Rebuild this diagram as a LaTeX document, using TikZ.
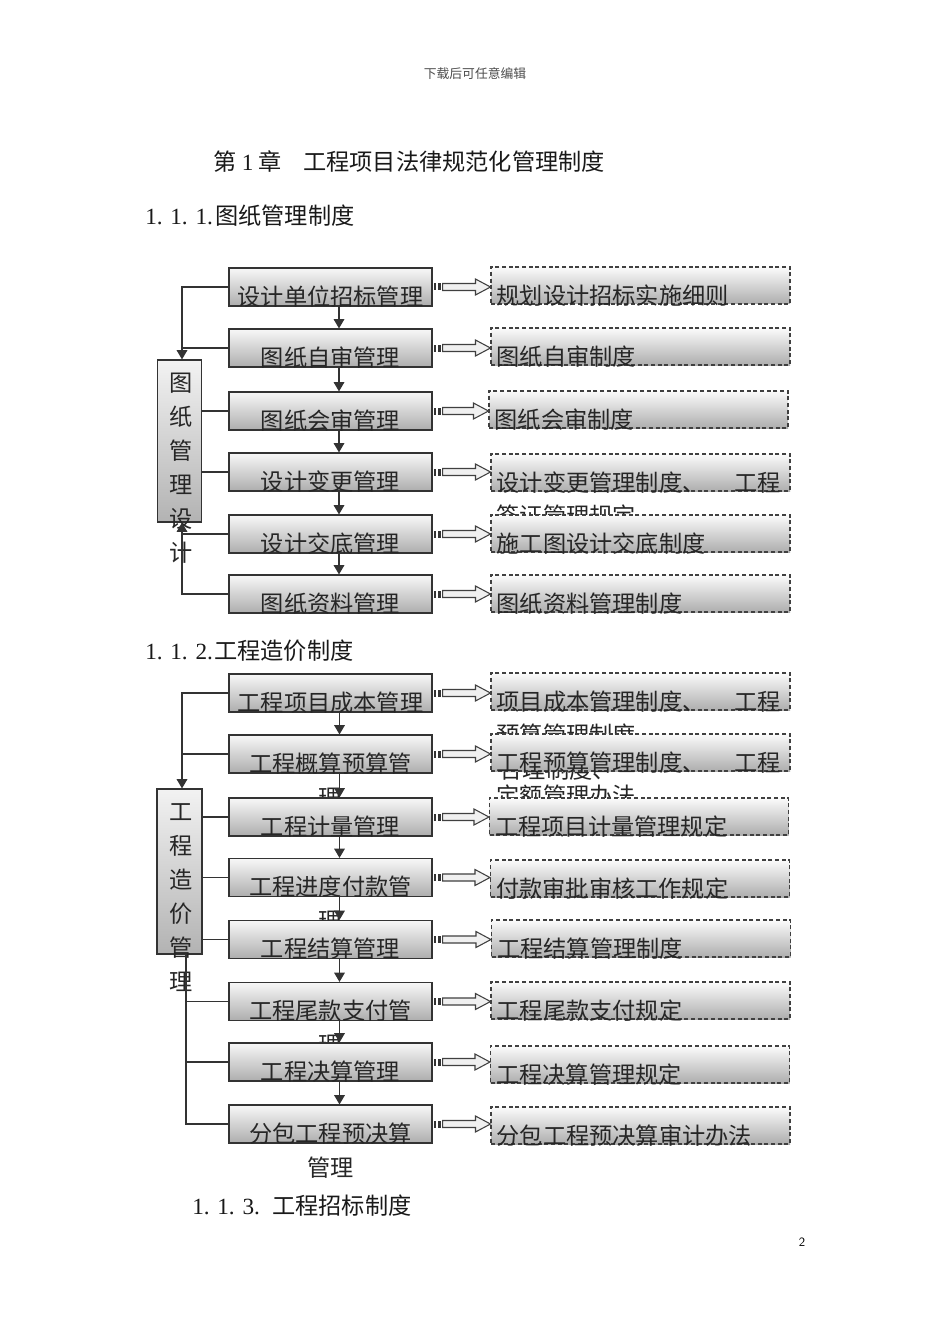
\documentclass[tikz,border=0pt]{standalone}
\usepackage{fontspec}
\setmainfont{Liberation Serif}
\newfontfamily\cjk{Noto Sans CJK SC}
\usetikzlibrary{arrows.meta,calc}
\newcommand\dblarrow[2]{%
  \fill[black!80] ($(#1.east)+(1,-3.5)$) rectangle ($(#1.east)+(3.5,3.5)$);
  \fill[black!80] ($(#1.east)+(5.5,-3.5)$) rectangle ($(#1.east)+(8.5,3.5)$);
  \draw[black!75, line width=0.8pt, fill=gray!12]
    ($(#1.east)+(10,-3.5)$) -- ($(#2.west |- #1.east)+(-15,-3.5)$) -- ($(#2.west |- #1.east)+(-15,-8)$)
    -- (#2.west |- #1.east) -- ($(#2.west |- #1.east)+(-15,8)$) -- ($(#2.west |- #1.east)+(-15,3.5)$)
    -- ($(#1.east)+(10,3.5)$) -- cycle;}
\begin{document}
\begin{tikzpicture}[x=0.75pt,y=-0.75pt,
  mbox/.style={draw=black!80, line width=0.85pt, top color=gray!6, bottom color=gray!64,
    minimum width=152.25pt, minimum height=28.5pt, inner sep=0pt},
  dbox/.style={draw=black!75, line width=0.8pt, dash pattern=on 3pt off 2pt,
    top color=gray!3, bottom color=gray!64, minimum width=224.25pt, minimum height=27.75pt, inner sep=0pt},
  tbox/.style={draw=black!80, line width=0.85pt, top color=gray!10, bottom color=gray!60,
    minimum width=33pt, inner sep=0pt},
  txt/.style={font=\cjk\fontsize{17.4}{20}\selectfont, text=black!85, inner sep=0pt},
  dtxt/.style={txt, anchor=west},
  head/.style={font=\cjk\fontsize{17.4}{20}\selectfont, text=black!90, inner sep=0pt, anchor=base west},
  num/.style={font=\rmfamily\fontsize{17.4}{20}\selectfont, text=black!90, inner sep=0pt, anchor=base west},
  conn/.style={draw=black!80, line width=0.9pt},
  arr/.style={conn, -{Triangle[width=8pt,length=7pt]}},
]
\useasboundingbox (0,0) rectangle (950,1344);
\fill[white] (0,0) rectangle (950,1344);

% header, titles
\node[font=\cjk\fontsize{9.6}{11}\selectfont, text=black!70, inner sep=0pt] (hdr) at (475,74) {下载后可任意编辑};
\node[head] (ti1) at (213,171) {第\hspace{4pt}{\rmfamily 1}\hspace{4pt}章};
\node[head] (ti2) at (303,171) {工程项目法律规范化管理制度};
\node[num] (h1n) at (145,225) {1.\,\,1.\,\,1.};
\node[head] (h1t) at (215,225) {图纸管理制度};
\node[num] (h2n) at (145,659) {1.\,\,1.\,\,2.};
\node[head] (h2t) at (214,659) {工程造价制度};
\node[num] (h3n) at (192,1214) {1.\,\,1.\,\,3.};
\node[head] (h3t) at (272,1214) {工程招标制度};
\node[font=\sffamily\fontsize{9.5}{11}\selectfont, inner sep=0pt] (pg) at (802,1242) {2};

% ===== diagram 1 =====
\node[tbox, minimum height=121.5pt] (t1) at (179.5,441) {};
\node[mbox] (a1) at (330.5,287) {};
\node[txt] (a1t) at ($(a1.center)+(0,9.5)$) {设计单位招标管理};
\node[mbox] (a2) at (330.5,348) {};
\node[txt] (a2t) at ($(a2.center)+(0,9.5)$) {图纸自审管理};
\node[mbox] (a3) at (330.5,411) {};
\node[txt] (a3t) at ($(a3.center)+(0,9.5)$) {图纸会审管理};
\node[mbox] (a4) at (330.5,472) {};
\node[txt] (a4t) at ($(a4.center)+(0,9.5)$) {设计变更管理};
\node[mbox] (a5) at (330.5,534) {};
\node[txt] (a5t) at ($(a5.center)+(0,9.5)$) {设计交底管理};
\node[mbox] (a6) at (330.5,594) {};
\node[txt] (a6t) at ($(a6.center)+(0,9.5)$) {图纸资料管理};

\node[dbox] (b1) at (640.5,285.5) {};
\node[dtxt] (b1t) at ($(b1.west)+(6,10.5)$) {规划设计招标实施细则};
\node[dbox] (b2) at (640.5,346.5) {};
\node[dtxt] (b2t) at ($(b2.west)+(6,10.5)$) {图纸自审制度};
\node[dbox] (b3) at (638.5,409.5) {};
\node[dtxt] (b3t) at ($(b3.west)+(6,10.5)$) {图纸会审制度};
\node[dbox] (b4) at (640.5,472.5) {};
\node[dtxt, text width=213pt] (b4t) at ($(b4.west)+(6,10.5)$) {设计变更管理制度、\hfill 工程};
\node[dtxt] (b4u) at ($(b4.west)+(6,43.5)$) {签证管理规定};
\node[dbox] (b5) at (640.5,533.5) {};
\node[dtxt] (b5t) at ($(b5.west)+(6,10.5)$) {施工图设计交底制度};
\node[dbox] (b6) at (640.5,593.5) {};
\node[dtxt] (b6t) at ($(b6.west)+(6,10.5)$) {图纸资料管理制度};

\foreach \c [count=\i] in {图,纸,管,理,设,计}
  {\node[txt] (v1-\i) at (181,{383+34*(\i-1)}) {\c};}

\foreach \r in {1,...,6} {\dblarrow{a\r}{b\r}}

\foreach \r [evaluate=\r as \s using int(\r+1)] in {1,...,5}
  {\draw[arr] ($(a\r.south)+(8.5,0)$) -- ($(a\s.north)+(8.5,0)$);}

\draw[arr] (a1.west) -| ($(t1.north)+(2.5,0)$);
\draw[conn] (a2.west) -- ($(a2.west -| t1.north)+(2.5,0)$);
\draw[conn] (t1.east |- a3.west) -- (a3.west);
\draw[conn] (t1.east |- a4.west) -- (a4.west);
\draw[conn] (a5.west) -- ($(a5.west -| t1.south)+(2.5,0)$);
\draw[arr] (a6.west) -| ($(t1.south)+(2.5,0)$);

% ===== diagram 2 =====
\node[tbox, minimum width=33.75pt, minimum height=123.75pt] (T2) at (179.5,871.5) {};
\node[mbox] (c1) at (330.5,693) {};
\node[txt] (c1t) at ($(c1.center)+(0,9.5)$) {工程项目成本管理};
\node[mbox] (c2) at (330.5,754) {};
\node[txt] (c2t) at ($(c2.center)+(0,9.5)$) {工程概算预算管};
\node[txt] (c2u) at ($(c2.center)+(0,43.5)$) {理};
\node[mbox] (c3) at (330.5,817) {};
\node[txt] (c3t) at ($(c3.center)+(0,9.5)$) {工程计量管理};
\node[mbox] (c4) at (330.5,877.5) {};
\node[txt] (c4t) at ($(c4.center)+(0,9.5)$) {工程进度付款管};
\node[txt] (c4u) at ($(c4.center)+(0,43.5)$) {理};
\node[mbox] (c5) at (330.5,939.5) {};
\node[txt] (c5t) at ($(c5.center)+(0,9.5)$) {工程结算管理};
\node[mbox] (c6) at (330.5,1001.5) {};
\node[txt] (c6t) at ($(c6.center)+(0,9.5)$) {工程尾款支付管};
\node[txt] (c6u) at ($(c6.center)+(0,43.5)$) {理};
\node[mbox] (c7) at (330.5,1062) {};
\node[txt] (c7t) at ($(c7.center)+(0,9.5)$) {工程决算管理};
\node[mbox] (c8) at (330.5,1124) {};
\node[txt] (c8t) at ($(c8.center)+(0,9.5)$) {分包工程预决算};
\node[txt] (c8u) at ($(c8.center)+(0,43.5)$) {管理};

\node[dbox] (d1) at (640.5,691.5) {};
\node[dtxt, text width=213pt] (d1t) at ($(d1.west)+(6,10.5)$) {项目成本管理制度、\hfill 工程};
\node[dtxt] (d1u) at ($(d1.west)+(6,43.5)$) {预算管理制度};
\node[dtxt] (d1v) at ($(d1.west)+(9,78)$) {合理制度、};
\node[dbox] (d2) at (640.5,752.5) {};
\node[dtxt, text width=213pt] (d2t) at ($(d2.west)+(6,10.5)$) {工程预算管理制度、\hfill 工程};
\node[dtxt] (d2u) at ($(d2.west)+(6,43.5)$) {定额管理办法};
\node[dbox] (d3) at (639,816.5) {};
\node[dtxt] (d3t) at ($(d3.west)+(6,10.5)$) {工程项目计量管理规定};
\node[dbox] (d4) at (640,878.5) {};
\node[dtxt] (d4t) at ($(d4.west)+(6,10.5)$) {付款审批审核工作规定};
\node[dbox] (d5) at (641,938.5) {};
\node[dtxt] (d5t) at ($(d5.west)+(6,10.5)$) {工程结算管理制度};
\node[dbox] (d6) at (640.5,1000.5) {};
\node[dtxt] (d6t) at ($(d6.west)+(6,10.5)$) {工程尾款支付规定};
\node[dbox] (d7) at (640,1064.5) {};
\node[dtxt] (d7t) at ($(d7.west)+(6,10.5)$) {工程决算管理规定};
\node[dbox] (d8) at (640.5,1125.5) {};
\node[dtxt] (d8t) at ($(d8.west)+(6,10.5)$) {分包工程预决算审计办法};

\foreach \c [count=\i] in {工,程,造,价,管,理}
  {\node[txt] (v2-\i) at (181,{812+34*(\i-1)}) {\c};}

\foreach \r in {1,...,8} {\dblarrow{c\r}{d\r}}

\foreach \r [evaluate=\r as \s using int(\r+1)] in {1,...,7}
  {\draw[arr] ($(c\r.south)+(9,0)$) -- ($(c\s.north)+(9,0)$);}

\draw[arr] (c1.west) -| ($(T2.north)+(2.5,0)$);
\draw[conn] (c2.west) -- ($(c2.west -| T2.north)+(2.5,0)$);
\draw[conn] (T2.east |- c3.west) -- (c3.west);
\draw[conn] (T2.east |- c4.west) -- (c4.west);
\draw[conn] (T2.east |- c5.west) -- (c5.west);
\draw[conn] ($(T2.south)+(6.5,0)$) |- (c8.west);
\draw[conn] (c6.west) -- ($(c6.west -| T2.south)+(6.5,0)$);
\draw[conn] (c7.west) -- ($(c7.west -| T2.south)+(6.5,0)$);
\end{tikzpicture}
\end{document}
